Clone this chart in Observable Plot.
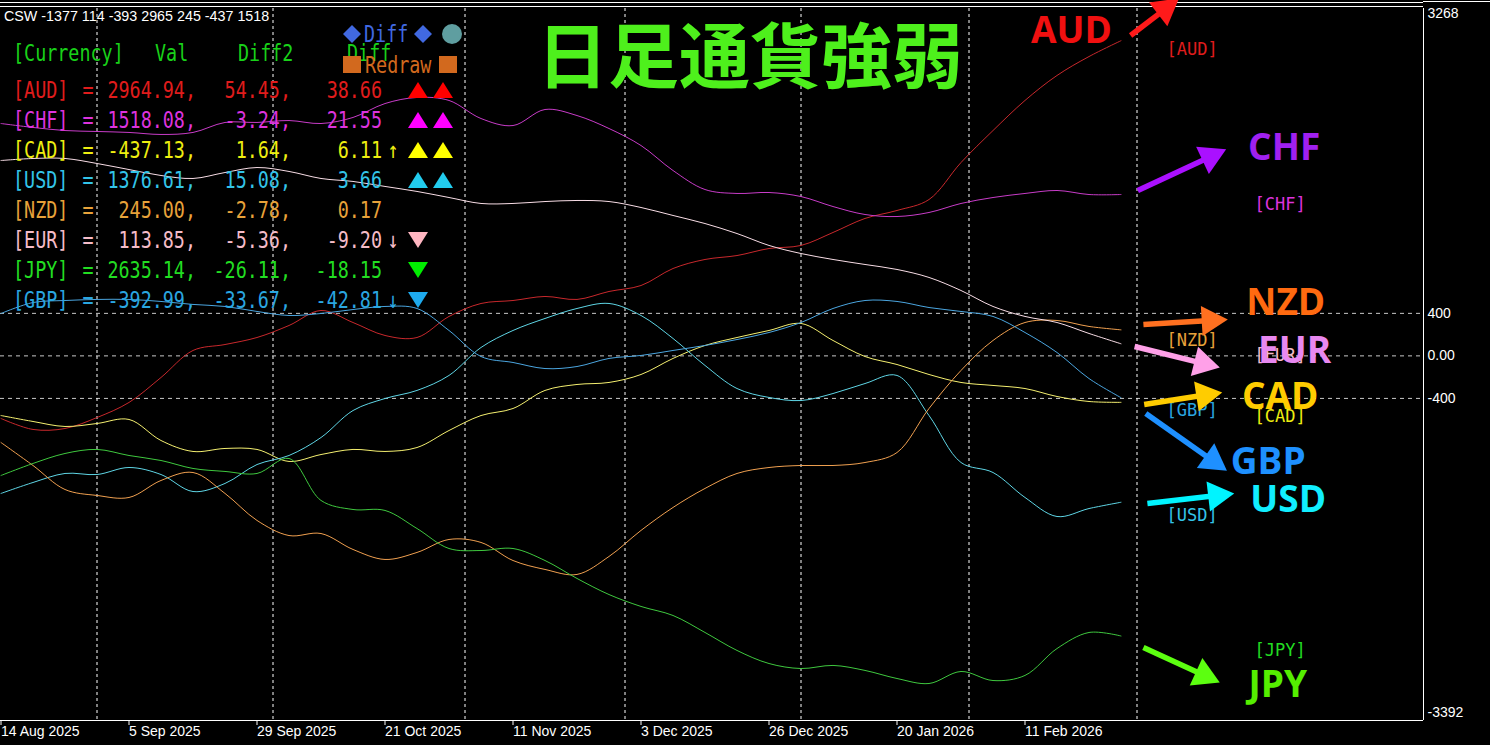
<!DOCTYPE html>
<html><head><meta charset="utf-8">
<script src="https://cdn.jsdelivr.net/npm/d3@7"></script>
<script src="https://cdn.jsdelivr.net/npm/@observablehq/plot@0.6"></script>
<style>
html,body{margin:0;padding:0;background:#000;overflow:hidden;}
#wrap{position:relative;width:1490px;height:745px;}
#hud{position:absolute;left:0;top:0;pointer-events:none;}
</style></head><body><div id="wrap"></div>
<script>
// ---------- data ----------
const bars = d3.range(0, 141, 4); // daily bar index (every 4th bar)
const AUD = [-589,-692,-683,-580,-438,-203,51,107,173,286,427,314,192,173,371,493,521,559,531,606,662,822,907,944,1010,1039,1161,1293,1368,1471,1819,2120,2403,2638,2816,2965];
const CHF = [2186,2149,2120,2111,2102,2083,2102,2196,2196,2214,2186,2243,2374,2431,2403,2233,2167,2318,2261,2139,1979,1744,1565,1528,1537,1499,1405,1330,1311,1349,1434,1490,1528,1556,1518,1518];
const EUR = [1838,1857,1857,1810,1753,1697,1669,1725,1772,1735,1669,1641,1594,1547,1490,1434,1434,1452,1462,1452,1396,1321,1245,1151,1039,963,907,860,813,738,615,465,371,314,211,114];
const USD = [-1294,-1191,-1106,-1116,-1050,-1116,-1276,-1200,-1022,-937,-768,-514,-401,-325,-184,79,239,352,446,493,380,164,-90,-307,-391,-420,-354,-260,-184,-561,-1003,-1097,-1332,-1511,-1436,-1377];
const GBP = [399,502,521,531,531,512,484,465,418,380,399,436,465,446,239,-6,-62,-119,-100,-24,4,51,98,154,220,314,446,521,512,455,418,371,220,32,-213,-393];
const CAD = [-561,-617,-664,-636,-598,-796,-899,-871,-880,-993,-928,-880,-899,-862,-702,-561,-495,-325,-269,-250,-175,-24,98,173,239,305,145,-6,-81,-175,-250,-278,-307,-382,-429,-437];
const NZD = [-815,-1031,-1257,-1313,-1332,-1172,-1097,-1294,-1548,-1690,-1671,-1821,-1915,-1849,-1727,-1755,-1925,-2009,-2056,-1887,-1642,-1426,-1247,-1106,-1050,-1031,-1031,-1003,-909,-495,-137,145,314,333,277,245];
const JPY = [-1125,-1012,-918,-880,-937,-984,-1059,-1087,-1106,-965,-1360,-1445,-1454,-1624,-1812,-1831,-1812,-1925,-2094,-2245,-2357,-2442,-2602,-2771,-2894,-2941,-2912,-2959,-3035,-3082,-2969,-3054,-3006,-2753,-2602,-2635];

const currencies = ["AUD","CHF","CAD","USD","NZD","EUR","JPY","GBP"];
const series = {AUD, CHF, CAD, USD, NZD, EUR, JPY, GBP};
const lineColors = ["#c8282c","#c83cc8","#f5f070","#5fd6e6","#f0a050","#f8dde6","#3fc83f","#4ba6e0"];

const tickBars = [0,16,32,48,64,80,96,112,128];
const dateLabels = ["14 Aug 2025","5 Sep 2025","29 Sep 2025","21 Oct 2025","11 Nov 2025","3 Dec 2025","26 Dec 2025","20 Jan 2026","11 Feb 2026"];
const monthBars = [12,34,58,78,100,121,142];
const levelTicks = [400,0,-400];
const scaleMax = 3268, scaleMin = -3392;

// table (HUD)
const tblCur = ["AUD","CHF","CAD","USD","NZD","EUR","JPY","GBP"];
const tblVal = [2964.94,1518.08,-437.13,1376.61,245.00,113.85,2635.14,-392.99];
const tblDiff2 = [54.45,-3.24,1.64,15.08,-2.78,-5.36,-26.11,-33.67];
const tblDiff = [38.66,21.55,6.11,3.66,0.17,-9.20,-18.15,-42.81];
const tblArrow = ["","","↑","","","↓","","↓"];
const tblMarks = [["up","up"],["up","up"],["up","up"],["up","up"],[],["down"],["down"],["down"]];
const tblColors = ["#e01c1c","#dd33dd","#eeee10","#33c4e8","#e8a23a","#f5bcc8","#22dd22","#2aa6e0"];
const tblMarkColors = ["#ff0000","#ff00ff","#ffff00","#22ccee","#ffc0cb","#ffb6c1","#00ee00","#1eaaee"];
const cswVals = [-1377,114,-393,2965,245,-437,1518];
const title = "日足通貨強弱";

// right-side annotations
const annCur = ["AUD","CHF","NZD","EUR","CAD","GBP","USD","JPY"];
const arrowFromBar = [141.2,142.1,142.8,141.7,142.9,143.1,143.3,142.8];
const arrowFromVal = [3014,1556,296,88,-457,-542,-1388,-2743];
const arrowToBar = [147.2,153.1,153.3,152.3,152.6,153.2,154.1,152.3];
const arrowToVal = [3360,1942,342,-109,-344,-1078,-1294,-3072];
const arrowColors = ["#ff1a1a","#aa10ff","#ff7020","#ffa0e8","#ffcc00","#1e90ff","#00f4ff","#5cff10"];
const bigBar = [133.8,160.4,160.6,161.7,159.9,158.4,160.9,159.6];
const bigVal = [3052,1951,493,41,-391,-1003,-1360,-3095];
const bigColors = ["#f01010","#a020f0","#ff6a10","#e888f0","#ffcc00","#1e90ff","#11eeff","#55ee00"];
const tagBar = [148.9,159.9,148.9,159.9,159.9,148.9,148.9,159.9];
const tagVal = [2882,1424,145,4,-570,-514,-1501,-2771];
const tagColors = ["#e01c1c","#dd33dd","#e8a23a","#f5bcc8","#eeee10","#2aa6e0","#33c4e8","#22dd22"];

// ---------- build ----------
const W = 1490, H = 745, mR = 67, mT = 8, mB = 25;
const xDomain = [-0.0625, 177.8125];
const yDomain = [-3430, scaleMax];
const sx = Plot.scale({x: {domain: xDomain, range: [0, W - mR]}});
const sy = Plot.scale({y: {domain: yDomain, range: [H - mB, mT]}});

const rows = currencies.flatMap(c => bars.map((b, i) => ({cur: c, bar: b, v: series[c][i]})));

const ann = annCur.map((c, i) => {
  const x1 = sx.apply(arrowFromBar[i]), y1 = sy.apply(arrowFromVal[i]);
  const x2 = sx.apply(arrowToBar[i]), y2 = sy.apply(arrowToVal[i]);
  const len = Math.hypot(x2 - x1, y2 - y1), ux = (x2 - x1) / len, uy = (y2 - y1) / len;
  const hx = x2 - ux * 17, hy = y2 - uy * 17;
  return {
    cur: c,
    fb: arrowFromBar[i], fv: arrowFromVal[i],
    hb: sx.invert(hx), hv: sy.invert(hy),
    rot: Math.atan2(ux, -uy) * 180 / Math.PI,
    color: arrowColors[i],
    lb: bigBar[i], lv: bigVal[i], big: c, bigColor: bigColors[i],
    tb: tagBar[i], tv: tagVal[i], tag: `[${c}]`, tagColor: tagColors[i]
  };
});

const annMarks = [
  ...ann.map(d => Plot.text([d], {x: "tb", y: "tv", text: "tag", fill: d.tagColor, fontSize: 17, fontFamily: "'DejaVu Sans Mono', monospace", textAnchor: "middle"})),
  ...ann.map(d => Plot.link([d], {x1: "fb", y1: "fv", x2: "hb", y2: "hv", stroke: d.color, strokeWidth: 5.5})),
  ...ann.map(d => Plot.dot([d], {x: "hb", y: "hv", symbol: "triangle", r: 11.2, fill: d.color, stroke: "none", rotate: d.rot})),
  ...ann.map(d => Plot.text([d], {x: "lb", y: "lv", text: "big", fill: d.bigColor, fontSize: 37, fontWeight: 700, fontFamily: "'Open Sans', 'Noto Sans', sans-serif", textAnchor: "middle"}))
];

const chart = Plot.plot({
  width: W, height: H,
  marginLeft: 0, marginRight: mR, marginTop: mT, marginBottom: mB,
  style: {background: "#000", color: "#fff", fontFamily: "'Liberation Sans', Arial, sans-serif", fontSize: "14px"},
  x: {domain: xDomain, axis: null},
  y: {domain: yDomain, axis: null},
  color: {domain: currencies, range: lineColors},
  marks: [
    Plot.ruleY(levelTicks, {stroke: "#c8c8c8", strokeDasharray: "4,4", strokeWidth: 1}),
    Plot.ruleX(monthBars, {stroke: "#ffffff", strokeDasharray: "3,3", strokeWidth: 1}),
    Plot.line(rows, {x: "bar", y: "v", z: "cur", stroke: "cur", strokeWidth: 1, curve: "catmull-rom"}),
    Plot.ruleX([xDomain[1]], {stroke: "#fff", strokeWidth: 1}),
    Plot.ruleY([yDomain[0]], {stroke: "#fff", strokeWidth: 1}),
    Plot.ruleY([yDomain[1]], {stroke: "#fff", strokeWidth: 1, dy: -2}),
    Plot.ruleY([yDomain[1]], {stroke: "#fff", strokeWidth: 1, dy: -6}),
    Plot.axisY({anchor: "right", ticks: levelTicks, tickSize: 0, tickPadding: 4, label: null,
      tickFormat: d => d === 0 ? "0.00" : String(d), fontSize: 14}),
    Plot.text([scaleMax], {x: xDomain[1], y: d => d, text: d => String(d), dx: 4, dy: 5, textAnchor: "start", fill: "#fff", fontSize: 14}),
    Plot.text([scaleMin], {x: xDomain[1], y: yDomain[0], text: d => String(d), dx: 4, dy: -8, textAnchor: "start", fill: "#fff", fontSize: 14}),
    Plot.axisX({ticks: tickBars, tickSize: 5, tickPadding: 1, label: null, textAnchor: "start",
      tickFormat: d => dateLabels[tickBars.indexOf(d)], fontSize: 14}),
    ...annMarks
  ]
});
document.getElementById("wrap").appendChild(chart);

// ---------- HUD overlay (MT4 text objects) ----------
const hud = d3.select("#wrap").append("svg").attr("id", "hud").attr("width", W).attr("height", H);
hud.append("line").attr("x1", W - mR).attr("x2", W).attr("y1", 1.5).attr("y2", 1.5).attr("stroke", "#fff");
hud.append("text").attr("x", 4).attr("y", 21).attr("fill", "#fff")
  .style("font-family", "'Liberation Sans', Arial, sans-serif").style("font-size", "14.3px")
  .text("CSW " + cswVals.join(" "));
hud.append("text").attr("x", 750).attr("y", 82).attr("text-anchor", "middle").attr("fill", "#4ef01c")
  .style("font-family", "'Noto Sans CJK JP', sans-serif").style("font-size", "71px").style("font-weight", 700)
  .text(title);

function mono(x, y, str, color, anchor = "start") {
  hud.append("text").attr("transform", `translate(${x},${y}) scale(0.8,1)`)
    .attr("text-anchor", anchor).attr("fill", color)
    .style("font-family", "'DejaVu Sans Mono', monospace").style("font-size", "23px")
    .text(str);
}
// buttons
hud.append("path").attr("d", "M352,25 L361,34 L352,43 L343,34 Z").attr("fill", "#4169e1");
mono(364, 42, "Diff", "#4169e1");
hud.append("path").attr("d", "M423,25 L432,34 L423,43 L414,34 Z").attr("fill", "#4169e1");
hud.append("circle").attr("cx", 452).attr("cy", 34).attr("r", 10).attr("fill", "#5f9ea0");
// header
const hdr = "#19d119";
mono(13, 61, "[Currency]", hdr);
mono(155, 61, "Val", hdr);
mono(238, 61, "Diff2", hdr);
mono(347, 61, "Diff", hdr);
hud.append("rect").attr("x", 343).attr("y", 56).attr("width", 18).attr("height", 17).attr("fill", "#d2691e");
mono(365, 73, "Redraw", "#d2691e");
hud.append("rect").attr("x", 439).attr("y", 56).attr("width", 18).attr("height", 17).attr("fill", "#d2691e");
// rows
tblCur.forEach((c, i) => {
  const y = 98 + 30 * i, col = tblColors[i];
  mono(13, y, `[${c}]`, col);
  mono(88, y, "=", col, "middle");
  mono(196, y, tblVal[i].toFixed(2) + ",", col, "end");
  mono(291, y, tblDiff2[i].toFixed(2) + ",", col, "end");
  mono(382, y, tblDiff[i].toFixed(2), col, "end");
  if (tblArrow[i]) mono(393, y, tblArrow[i], col, "middle");
  tblMarks[i].forEach((m, k) => {
    const cx = 418 + 25 * k;
    const d = m === "up"
      ? `M${cx - 10},${y} L${cx + 10},${y} L${cx},${y - 16} Z`
      : `M${cx - 10},${y - 16} L${cx + 10},${y - 16} L${cx},${y} Z`;
    hud.append("path").attr("d", d).attr("fill", tblMarkColors[i]);
  });
});
</script>
</body></html>
